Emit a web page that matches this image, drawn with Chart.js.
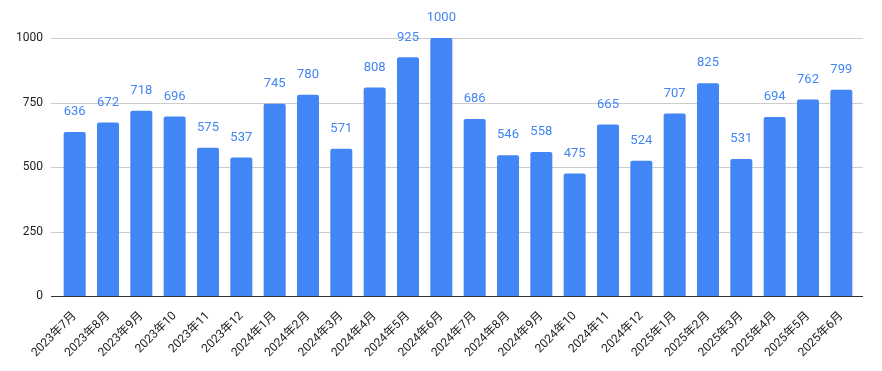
<!DOCTYPE html>
<html>
<head>
<meta charset="utf-8">
<script src="https://cdn.jsdelivr.net/npm/chart.js@4"></script>
<style>
  html, body { margin: 0; padding: 0; background: #fff; }
  #wrap { width: 882px; height: 371px; }
</style>
</head>
<body>
<div id="wrap"><canvas id="chart" width="882" height="371"></canvas></div>
<script>
// month labels (as shown, the two-digit months are cut short)
const months = [
  '2023年7月', '2023年8月', '2023年9月', '2023年10', '2023年11', '2023年12',
  '2024年1月', '2024年2月', '2024年3月', '2024年4月', '2024年5月', '2024年6月',
  '2024年7月', '2024年8月', '2024年9月', '2024年10', '2024年11', '2024年12',
  '2025年1月', '2025年2月', '2025年3月', '2025年4月', '2025年5月', '2025年6月'
];
const counts = [
  636, 672, 718, 696, 575, 537,
  745, 780, 571, 808, 925, 1000,
  686, 546, 558, 475, 665, 524,
  707, 825, 531, 694, 762, 799
];
const yTicks = [0, 250, 500, 750, 1000];

const barBlue = '#4285F4';
const fontFamily = 'Roboto, "Noto Sans CJK JP", sans-serif';

// gridlines run a little past the bars on both sides, so draw them here
const wideGrid = {
  id: 'wideGrid',
  beforeDatasetsDraw(chart) {
    const ctx = chart.ctx;
    const y = chart.scales.y;
    ctx.save();
    ctx.lineWidth = 1;
    yTicks.forEach(v => {
      const py = Math.round(y.getPixelForValue(v)) + 0.5;
      ctx.strokeStyle = v === 0 ? '#333' : '#ccc';
      ctx.beginPath();
      ctx.moveTo(51, py);
      ctx.lineTo(863, py);
      ctx.stroke();
    });
    ctx.restore();
  }
};

// draws the value above each bar
const valueLabels = {
  id: 'valueLabels',
  afterDatasetsDraw(chart) {
    const ctx = chart.ctx;
    const meta = chart.getDatasetMeta(0);
    ctx.save();
    ctx.font = '13px ' + fontFamily;
    ctx.fillStyle = barBlue;
    ctx.textAlign = 'center';
    ctx.textBaseline = 'middle';
    meta.data.forEach((bar, i) => {
      ctx.fillText(String(counts[i]), bar.x, bar.y - 20);
    });
    ctx.restore();
  }
};

const ctx = document.getElementById('chart').getContext('2d');
new Chart(ctx, {
  type: 'bar',
  data: {
    labels: months,
    datasets: [{
      data: counts,
      backgroundColor: barBlue,
      borderRadius: { topLeft: 2, topRight: 2, bottomLeft: 0, bottomRight: 0 },
      borderSkipped: 'bottom',
      categoryPercentage: 1,
      barPercentage: 0.66
    }]
  },
  options: {
    responsive: false,
    animation: false,
    layout: { padding: { top: 38, right: 24, left: 0, bottom: 0 } },
    plugins: {
      legend: { display: false },
      tooltip: { enabled: false }
    },
    scales: {
      x: {
        grid: { display: false },
        border: { display: false },
        ticks: {
          color: '#222',
          font: { family: fontFamily, size: 12 },
          maxRotation: 45,
          minRotation: 45,
          autoSkip: false,
          padding: 5
        },
        afterFit(scale) { scale.height = 75; }
      },
      y: {
        min: 0,
        max: 1000,
        afterBuildTicks(scale) { scale.ticks = yTicks.map(v => ({ value: v })); },
        border: { display: false },
        grid: { display: false },
        ticks: {
          color: '#222',
          font: { family: fontFamily, size: 12 },
          padding: 7,
          callback: v => String(v)
        },
        afterFit(scale) { scale.width = 58; }
      }
    }
  },
  plugins: [wideGrid, valueLabels]
});
</script>
</body>
</html>
